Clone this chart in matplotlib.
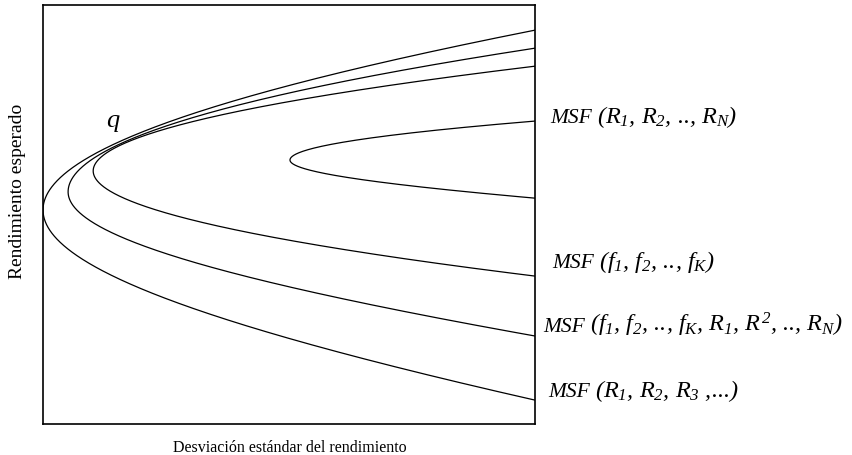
import numpy as np
import matplotlib
matplotlib.use("Agg")
import matplotlib.pyplot as plt

plt.rcParams.update({
    'font.family': 'Liberation Serif',
    'mathtext.fontset': 'custom',
    'mathtext.rm': 'Liberation Serif:italic',
    'mathtext.it': 'Liberation Serif:italic',
    'mathtext.bf': 'Liberation Serif:italic:bold',
})

# Frontier shapes (axis units 0-100 on both axes).
# Order: R1..R3.. (widest), f+R mixed, factors only, assets R1..RN (inner)
vertex_x    = [0.0, 5.1, 10.2, 50.2]
vertex_y    = [51.1, 55.4, 60.4, 63.0]
upper_mid_x = [22.8, 59.3, 59.3, 76.6]
upper_mid_y = [70.9, 81.4, 78.8, 69.7]
upper_end_y = [94.0, 89.7, 85.4, 72.3]
lower_mid_x = [59.3, 59.3, 59.3, 76.6]
lower_mid_y = [17.4, 30.3, 42.0, 56.6]
lower_end_y = [5.7, 21.0, 35.3, 53.9]

labels = [
    r'$(R_1\text{, }R_2\text{, }R_3\text{ ,...)}$',
    r'$(f_1\text{, }f_2\text{, .., }f_K\text{, }R_1\text{, }R^2\text{, .., }R_N)$',
    r'$(f_1\text{, }f_2\text{, .., }f_K)$',
    r'$(R_1\text{, }R_2\text{, .., }R_N)$',
]
X_MAX = 100.0


def branch(x0, y0, xm, ym, ye, sign):
    """Hyperbola (or parabola) branch from the vertex through a mid and end point."""
    dm, de = abs(ym - y0), abs(ye - y0)
    um, ue = xm - x0, X_MAX - x0
    r = dm ** 2 / de ** 2
    den = 2 * (r * ue - um)
    a = (um ** 2 - r * ue ** 2) / den if den != 0 else np.inf
    d = np.linspace(0, de, 400)
    if np.isfinite(a) and a > 0:
        b2 = (ue ** 2 + 2 * a * ue) / de ** 2
        u = np.sqrt(a ** 2 + b2 * d ** 2) - a
    else:
        u = ue * (d / de) ** 2
    return x0 + u, y0 + sign * d


fig = plt.figure(figsize=(8.52, 4.56), dpi=100)
ax = fig.add_axes([43 / 852, 31 / 456, 492 / 852, 419 / 456])

for i in range(len(vertex_x)):
    xu, yu = branch(vertex_x[i], vertex_y[i], upper_mid_x[i], upper_mid_y[i], upper_end_y[i], 1)
    xl, yl = branch(vertex_x[i], vertex_y[i], lower_mid_x[i], lower_mid_y[i], lower_end_y[i], -1)
    ax.plot(np.r_[xu[::-1], xl], np.r_[yu[::-1], yl], color='black', lw=0.9)

ax.set_xlim(0, X_MAX)
ax.set_ylim(0, 100)
ax.set_xticks([])
ax.set_yticks([])
for s in ax.spines.values():
    s.set_linewidth(1.2)

fig.text(290 / 852, 1 - 448 / 456, 'Desviación estándar del rendimiento',
         fontsize=11.5, ha='center', va='center')
fig.text(18 / 852, 1 - 191 / 456, 'Rendimiento esperado', fontsize=14,
         rotation=90, ha='center', va='center')

ax.text(12.8, 71.1, 'q', fontsize=19, style='italic', va='baseline')

# curve labels: "MSF" followed by the argument list
label_pos = [(102.6, 6.7), (101.6, 22.2), (103.5, 37.5), (103.0, 72.1)]
heads = []
for (lx, ly) in label_pos:
    heads.append(ax.text(lx, ly, 'MSF', fontsize=15.5, style='italic',
                         va='baseline', clip_on=False))
fig.canvas.draw()
inv = ax.transData.inverted()
for t, (lx, ly), lab in zip(heads, label_pos, labels):
    bb = t.get_window_extent()
    x1 = inv.transform((bb.x1 + 5, 0))[0]
    ax.text(x1, ly, lab, fontsize=17.5, va='baseline', clip_on=False)

fig.savefig('out.png', dpi=100)
